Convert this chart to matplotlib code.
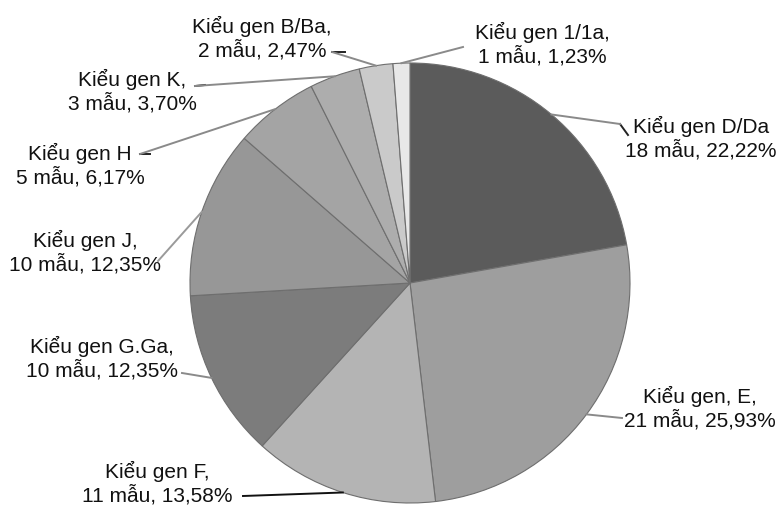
import numpy as np
import matplotlib.pyplot as plt

plt.rcParams['font.family'] = ['Liberation Sans', 'DejaVu Sans']

# Data (clockwise from 12 o'clock)
genotypes = ["D/Da", "E", "F", "G.Ga", "J", "H", "K", "B/Ba", "1/1a"]
samples = [18, 21, 11, 10, 10, 5, 3, 2, 1]
percents = ["22,22", "25,93", "13,58", "12,35", "12,35", "6,17", "3,70", "2,47", "1,23"]
labels = [
    "Kiểu gen D/Da\n18 mẫu, 22,22%",
    "Kiểu gen, E,\n21 mẫu, 25,93%",
    "Kiểu gen F,\n11 mẫu, 13,58%",
    "Kiểu gen G.Ga,\n10 mẫu, 12,35%",
    "Kiểu gen J,\n10 mẫu, 12,35%",
    "Kiểu gen H\n5 mẫu, 6,17%",
    "Kiểu gen K,\n3 mẫu, 3,70%",
    "Kiểu gen B/Ba,\n2 mẫu, 2,47%",
    "Kiểu gen 1/1a,\n1 mẫu, 1,23%",
]
colors = ["#5b5b5b", "#9e9e9e", "#b4b4b4", "#7c7c7c", "#979797",
          "#a4a4a4", "#adadad", "#cacaca", "#e8e8e8"]

# label text centre (pixels, y from top) and where the leader leaves the text
W, H = 783, 506
text_pos = [(701, 138), (700, 408), (157, 483), (102, 358), (85, 252),
            (80, 165), (132, 91), (262, 38), (542, 44)]
leader_start = [(620, 125), (622, 419), (243, 497), (182, 374), (158, 262),
                (140, 155), (195, 87), (332, 53), (463, 48)]
leader_color = ["#8a8a8a", "#8a8a8a", "#111111", "#8a8a8a", "#9a9a9a",
                "#8a8a8a", "#8a8a8a", "#8a8a8a", "#8a8a8a"]

cx, cy, r = 410, H - 284, 220

fig = plt.figure(figsize=(7.83, 5.06), dpi=100)
ax = fig.add_axes([0, 0, 1, 1])

wedges, _ = ax.pie(samples, colors=colors, startangle=90, counterclock=False,
                   center=(cx, cy), radius=r, frame=True,
                   wedgeprops=dict(edgecolor="#6e6e6e", linewidth=0.8))
ax.set_xlim(0, W)
ax.set_ylim(0, H)
ax.set_aspect('auto')
ax.axis('off')

for w, lab, tp, ls, lc in zip(wedges, labels, text_pos, leader_start, leader_color):
    mid = np.deg2rad((w.theta1 + w.theta2) / 2)
    ex, ey = cx + r * np.cos(mid), cy + r * np.sin(mid)
    ax.plot([ls[0], ex], [H - ls[1], ey], color=lc, linewidth=1.4, zorder=3)
    ax.text(tp[0], H - tp[1], lab, ha="center", va="center", fontsize=15,
            color="#111111", linespacing=1.2)

# dark ticks where some leaders meet their labels
ax.plot([620, 628], [H - 125, H - 136], color="#222222", linewidth=1.4)
ax.plot([140, 150], [H - 155, H - 155], color="#222222", linewidth=1.4)
ax.plot([195, 205], [H - 87, H - 86], color="#222222", linewidth=1.4)
ax.plot([332, 345], [H - 53, H - 53], color="#222222", linewidth=1.4)

fig.savefig("out.png", dpi=100)
